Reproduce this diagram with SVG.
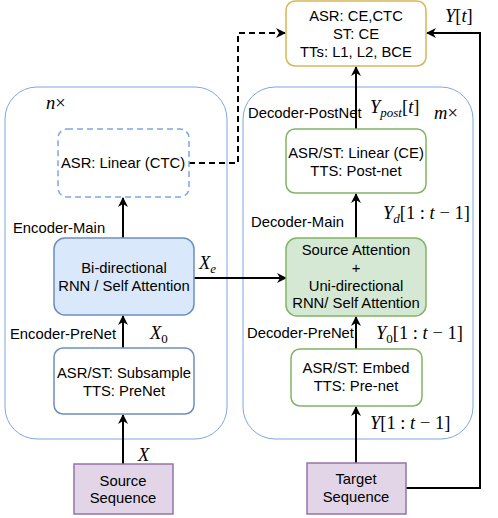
<svg xmlns="http://www.w3.org/2000/svg" width="498" height="518" viewBox="0 0 498 518">
<defs>
<marker id="ah" viewBox="0 0 10 10" refX="9" refY="5" markerWidth="10" markerHeight="10" markerUnits="userSpaceOnUse" orient="auto">
<path d="M0,0 L10,5 L0,10 L3,5 Z" fill="#000"/>
</marker>
<style>
.t{font-family:"Liberation Sans",Arial,sans-serif;font-size:14.8px;fill:#000;text-anchor:middle;dominant-baseline:central}
.l{font-family:"Liberation Sans",Arial,sans-serif;font-size:14.8px;fill:#000;dominant-baseline:central}
.m{font-family:"Liberation Serif","Times New Roman",serif;font-size:18.5px;font-style:italic;fill:#000}
.u{font-style:normal}
.c{fill:none;stroke:#7ea6e0;stroke-width:1}
.conn{fill:none;stroke:#000;stroke-width:2}
</style>
</defs>
<rect width="498" height="518" fill="#fff"/>
<g id="encoder-container"><rect class="c" x="5" y="87" width="222" height="352" rx="32"/>
<text class="m" x="46" y="109">n<tspan class="u">×</tspan></text></g>
<g id="decoder-container"><rect class="c" x="243" y="87" width="230" height="352" rx="32"/>
<text class="m" x="434" y="119">m<tspan class="u">×</tspan></text></g>
<g id="connectors">
<line class="conn" x1="123" y1="464" x2="123" y2="415" marker-end="url(#ah)"/>
<line class="conn" x1="123" y1="348" x2="123" y2="316" marker-end="url(#ah)"/>
<line class="conn" x1="123" y1="238" x2="123" y2="198" marker-end="url(#ah)"/>
<line class="conn" x1="194" y1="278" x2="286" y2="278" marker-end="url(#ah)"/>
<line class="conn" x1="356" y1="463" x2="356" y2="407" marker-end="url(#ah)"/>
<line class="conn" x1="356" y1="349" x2="356" y2="317" marker-end="url(#ah)"/>
<line class="conn" x1="356" y1="238" x2="356" y2="194" marker-end="url(#ah)"/>
<line class="conn" x1="356" y1="129" x2="356" y2="67" marker-end="url(#ah)"/>
<path d="M189,163 H238 V33 H285" fill="none" stroke="#000" stroke-width="2" stroke-dasharray="6,4" marker-end="url(#ah)"/>
<path class="conn" d="M406,488 H480 V33 H427" marker-end="url(#ah)"/>
<text class="m" x="138" y="461">X</text>
<text class="m" x="150" y="339">X<tspan class="u" font-size="13" dy="4">0</tspan></text>
<text class="m" x="199" y="269">X<tspan font-size="13" dy="4">e</tspan></text>
<text class="m" x="370" y="429">Y<tspan class="u">[1 : </tspan>t<tspan class="u"> − 1]</tspan></text>
<text class="m" x="376" y="339">Y<tspan class="u" font-size="13" dy="4">0</tspan><tspan class="u" dy="-4">[1 : </tspan>t<tspan class="u"> − 1]</tspan></text>
<text class="m" x="383" y="219">Y<tspan font-size="13" dy="4">d</tspan><tspan class="u" dy="-4">[1 : </tspan>t<tspan class="u"> − 1]</tspan></text>
<text class="m" x="370" y="113">Y<tspan font-size="13" dy="4">post</tspan><tspan class="u" dy="-4">[</tspan>t<tspan class="u">]</tspan></text>
<text class="m" x="445" y="22">Y<tspan class="u">[</tspan>t<tspan class="u">]</tspan></text>
<text class="l" x="10" y="334">Encoder-PreNet</text>
<text class="l" x="13" y="228">Encoder-Main</text>
<text class="l" x="247" y="333">Decoder-PreNet</text>
<text class="l" x="251" y="222">Decoder-Main</text>
<text class="l" x="248" y="113">Decoder-PostNet</text>
</g>
<g id="loss"><rect x="286" y="1" width="140" height="65" rx="9" fill="#fff" stroke="#d6b656" stroke-width="1.5"/>
<text class="t" x="356" y="16">ASR: CE,CTC</text><text class="t" x="356" y="34">ST: CE</text><text class="t" x="356" y="52">TTs: L1, L2, BCE</text></g>
<g id="ctc"><rect x="58" y="129" width="131" height="68" rx="9" fill="#fff" stroke="#7ea6e0" stroke-width="1.5" stroke-dasharray="6,4"/>
<text class="t" x="123" y="163">ASR: Linear (CTC)</text></g>
<g id="enc-main"><rect x="54" y="238" width="140" height="77" rx="11" fill="#dae8fc" stroke="#6c8ebf" stroke-width="1.5"/>
<text class="t" x="124" y="268">Bi-directional</text><text class="t" x="124" y="286">RNN / Self Attention</text></g>
<g id="enc-prenet"><rect x="54" y="348" width="140" height="66" rx="9" fill="#fff" stroke="#6c8ebf" stroke-width="1.5"/>
<text class="t" x="124" y="373">ASR/ST: Subsample</text><text class="t" x="124" y="391">TTS: PreNet</text></g>
<g id="source"><rect x="74" y="464" width="99" height="50" fill="#e1d5e7" stroke="#9673a6" stroke-width="1.5"/>
<text class="t" x="123" y="481">Source</text><text class="t" x="123" y="498">Sequence</text></g>
<g id="dec-post"><rect x="286" y="129" width="140" height="64" rx="9" fill="#fff" stroke="#82b366" stroke-width="1.5"/>
<text class="t" x="356" y="153">ASR/ST: Linear (CE)</text><text class="t" x="356" y="171">TTS: Post-net</text></g>
<g id="dec-main"><rect x="286" y="238" width="140" height="78" rx="11" fill="#d5e8d4" stroke="#82b366" stroke-width="1.5"/>
<text class="t" x="356" y="250">Source Attention</text><text class="t" x="356" y="268">+</text><text class="t" x="356" y="286">Uni-directional</text><text class="t" x="356" y="303">RNN/ Self Attention</text></g>
<g id="dec-prenet"><rect x="291" y="349" width="131" height="57" rx="9" fill="#fff" stroke="#82b366" stroke-width="1.5"/>
<text class="t" x="356" y="368">ASR/ST: Embed</text><text class="t" x="356" y="386">TTS: Pre-net</text></g>
<g id="target"><rect x="307" y="463" width="99" height="51" fill="#e1d5e7" stroke="#9673a6" stroke-width="1.5"/>
<text class="t" x="356" y="479">Target</text><text class="t" x="356" y="497">Sequence</text></g>
</svg>
